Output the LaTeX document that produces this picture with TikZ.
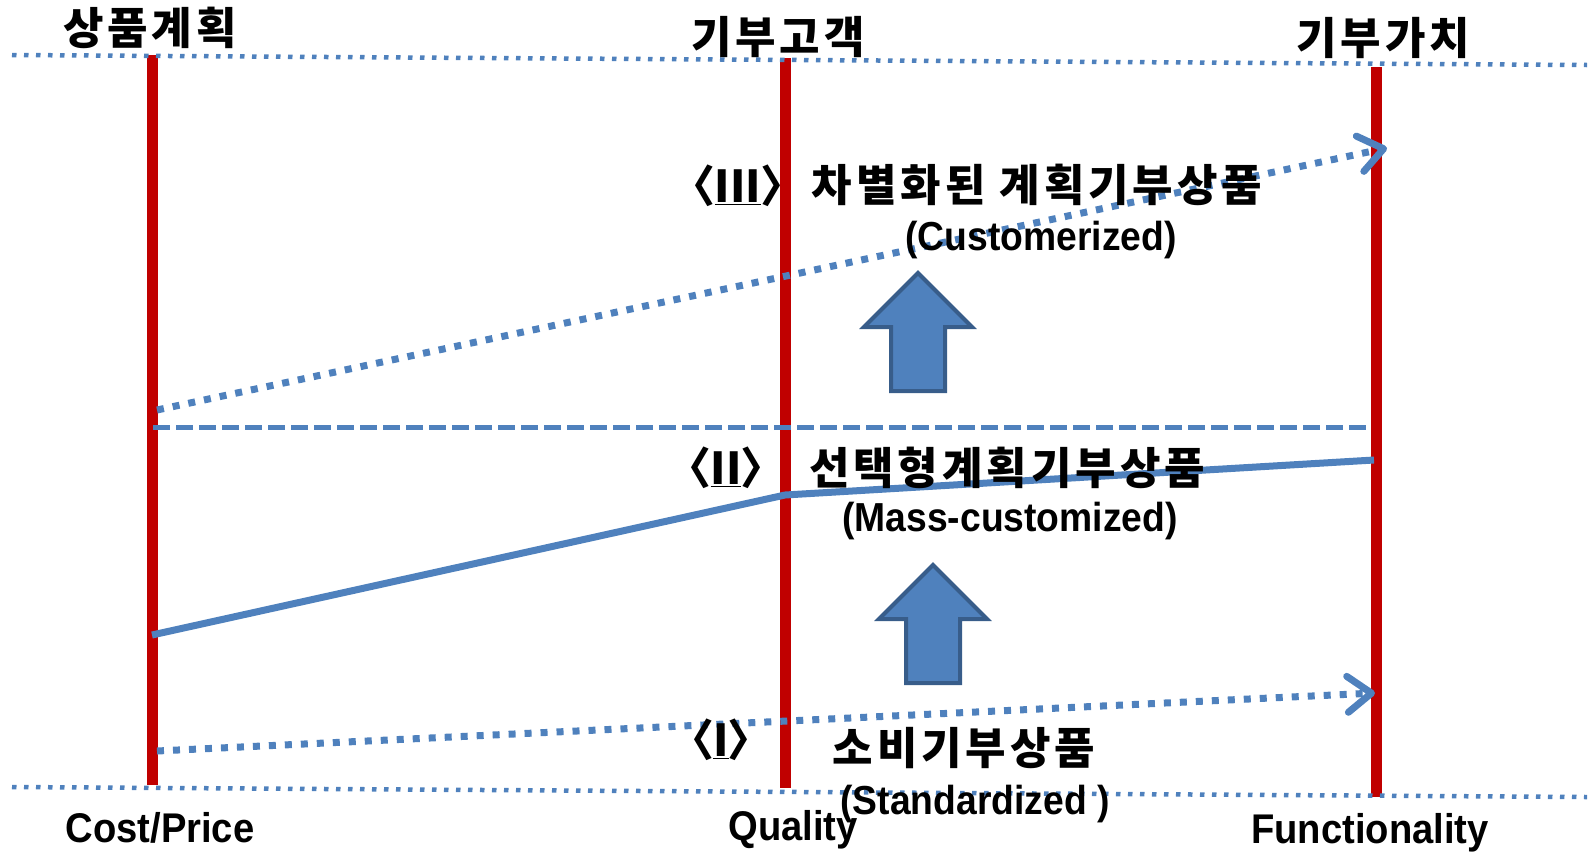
\documentclass[tikz,border=0pt]{standalone}
\usepackage{fontspec}
\setmainfont{Liberation Sans}
\newfontfamily\enfont{Liberation Sans}[FakeStretch=0.92]
\newfontfamily\kr{Noto Sans CJK KR}[LetterSpace=9]
\newfontfamily\krmark{Noto Sans CJK KR}
\usetikzlibrary{arrows.meta}

\definecolor{axisred}{HTML}{C00000}
\definecolor{lineblue}{HTML}{4F81BD}
\definecolor{edgeblue}{HTML}{385D8A}

% numbered level mark: angle brackets round an underlined roman numeral
\newcommand\levelmark[1]{{\krmark\bfseries 〈}\kern-1pt\underline{\krmark\bfseries #1}\kern-1pt{\krmark\bfseries 〉}}

\tikzset{
  axisline/.style={draw=axisred, line width=11pt},
  borderline/.style={draw=lineblue, line width=4.5pt, dash pattern=on 4.5pt off 7.5pt},
  dotarrow/.style={draw=lineblue, line width=7pt, dash pattern=on 7pt off 9pt,
    -{Straight Barb[length=24pt, width=36pt, line cap=round, line join=round]}},
  dashline/.style={draw=lineblue, line width=5pt, dash pattern=on 17pt off 6pt},
  solidline/.style={draw=lineblue, line width=7pt, line join=round},
  krtitle/.style={font=\kr\bfseries\fontsize{44}{48}\selectfont, inner sep=0pt},
  krlabel/.style={font=\kr\bfseries\fontsize{44}{48}\selectfont, inner sep=0pt},
  caption/.style={font=\enfont\bfseries\fontsize{41.5}{46}\selectfont, inner sep=0pt},
  enlabel/.style={font=\enfont\bfseries\fontsize{40.5}{45}\selectfont, inner sep=0pt},
  levellabel/.style={font=\fontsize{44}{48}\selectfont, inner sep=0pt},
  uparrow/.pic={
    \draw[fill=lineblue, draw=edgeblue, line width=4pt, line join=miter]
      (0,0) -- (54,54) -- (27,54) -- (27,118) -- (-27,118) -- (-27,54) -- (-54,54) -- cycle;
  }
}

\begin{document}
\begin{tikzpicture}[x=1pt, y=-1pt]
\useasboundingbox (0,0) rectangle (1594,857);

% end points of the axes and the guide lines
\coordinate (tl) at (12,55);     \coordinate (tr) at (1587,65);
\coordinate (bl) at (12,787);    \coordinate (br) at (1587,797);
\coordinate (c1t) at (152,55);   \coordinate (c1b) at (152,785);
\coordinate (c2t) at (785,58);   \coordinate (c2b) at (785,788);
\coordinate (c3t) at (1376,67);  \coordinate (c3b) at (1376,797);
\coordinate (hiS) at (157,410);  \coordinate (hiE) at (1387,148);
\coordinate (loS) at (157,751);  \coordinate (loE) at (1375,693);
\coordinate (dS) at (153,427);   \coordinate (dE) at (1370,427);
\coordinate (mA) at (152,635);   \coordinate (mB) at (785,495);   \coordinate (mC) at (1374,460);

% three vertical axes
\draw[axisline] (c1t) -- (c1b);
\draw[axisline] (c2t) -- (c2b);
\draw[axisline] (c3t) -- (c3b);

% top and bottom dotted borders
\draw[borderline] (tl) -- (tr);
\draw[borderline] (bl) -- (br);

% product levels
\draw[dotarrow] (hiS) -- (hiE);
\draw[dashline] (dS) -- (dE);
\draw[solidline] (mA) -- (mB) -- (mC);
\draw[dotarrow] (loS) -- (loE);

% upward block arrows between levels
\pic at (918,273) {uparrow};
\pic at (933,565) {uparrow};

% axis headings
\node[krtitle] (h1) at (150,28) {상품계획};
\node[krtitle] (h2) at (778,37) {기부고객};
\node[krtitle] (h3) at (1383,38) {기부가치};

% axis captions
\node[caption, anchor=base] (f1) at (160,842) {Cost/Price};
\node[caption, anchor=base] (f2) at (793,840) {Quality};
\node[caption, anchor=base] (f3) at (1370,843) {Functionality};

% level III
\node[levellabel] (n3) at (738,186) {\levelmark{III}};
\node[krlabel] (k3) at (1037,185) {차별화된 계획기부상품};
\node[enlabel] (e3) at (1041,240) {(Customerized)};

% level II
\node[levellabel] (n2) at (726,468) {\levelmark{II}};
\node[krlabel] (k2) at (1007,468) {선택형계획기부상품};
\node[enlabel] (e2) at (1010,521) {(Mass-customized)};

% level I
\node[levellabel] (n1) at (721,740) {\levelmark{I}};
\node[krlabel] (k1) at (964,748) {소비기부상품};
\node[enlabel] (e1) at (975,804) {(Standardized )};
\end{tikzpicture}
\end{document}
